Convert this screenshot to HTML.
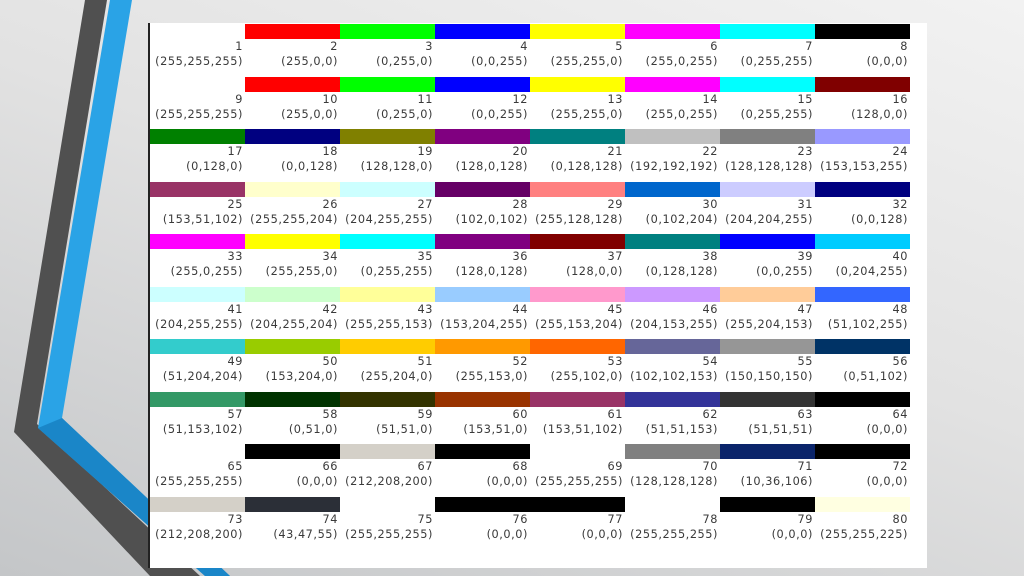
<!DOCTYPE html>
<html><head><meta charset="utf-8"><style>
body{margin:0;width:1024px;height:576px;overflow:hidden;position:relative;background:linear-gradient(200deg,#f2f2f2 0%,#e2e2e2 45%,#c4c6c8 100%);font-family:"DejaVu Sans","Liberation Sans",sans-serif;}
svg.deco{position:absolute;left:0;top:0}
.panel{position:absolute;left:148px;top:23px;width:779px;height:545px;background:#fff;border-left:2px solid #222;box-sizing:border-box}
.grid{position:absolute;left:150px;top:24px;width:760px}
.row{height:52.5px;display:flex}
.c{width:95px;height:52.5px;position:relative}
.c i{display:block;height:15px}
.c b{font-weight:normal;position:absolute;right:2px;font-size:11.3px;letter-spacing:0.55px;color:#3a3a3a;white-space:nowrap;line-height:12px}
.c b.n{top:17px}.c b.v{top:32px}
</style></head><body>
<svg class="deco" width="1024" height="576">
<polygon points="85,0 107,0 37,424 200,576 150,576 14,432" fill="#505050"/>
<polygon points="110,0 132,0 62,418 230,576 205,576 38,428" fill="#2aa3e6"/>
<polygon points="38,428 62,418 230,576 205,576" fill="#1a86c8"/>
</svg>
<div class="panel"></div>
<div class="grid" id="g">
<div class="row">
<div class="c"><i style="background:#fff"></i><b class="n">1</b><b class="v">(255,255,255)</b></div>
<div class="c"><i style="background:rgb(255,0,0)"></i><b class="n">2</b><b class="v">(255,0,0)</b></div>
<div class="c"><i style="background:rgb(0,255,0)"></i><b class="n">3</b><b class="v">(0,255,0)</b></div>
<div class="c"><i style="background:rgb(0,0,255)"></i><b class="n">4</b><b class="v">(0,0,255)</b></div>
<div class="c"><i style="background:rgb(255,255,0)"></i><b class="n">5</b><b class="v">(255,255,0)</b></div>
<div class="c"><i style="background:rgb(255,0,255)"></i><b class="n">6</b><b class="v">(255,0,255)</b></div>
<div class="c"><i style="background:rgb(0,255,255)"></i><b class="n">7</b><b class="v">(0,255,255)</b></div>
<div class="c"><i style="background:rgb(0,0,0)"></i><b class="n">8</b><b class="v">(0,0,0)</b></div>
</div>
<div class="row">
<div class="c"><i style="background:#fff"></i><b class="n">9</b><b class="v">(255,255,255)</b></div>
<div class="c"><i style="background:rgb(255,0,0)"></i><b class="n">10</b><b class="v">(255,0,0)</b></div>
<div class="c"><i style="background:rgb(0,255,0)"></i><b class="n">11</b><b class="v">(0,255,0)</b></div>
<div class="c"><i style="background:rgb(0,0,255)"></i><b class="n">12</b><b class="v">(0,0,255)</b></div>
<div class="c"><i style="background:rgb(255,255,0)"></i><b class="n">13</b><b class="v">(255,255,0)</b></div>
<div class="c"><i style="background:rgb(255,0,255)"></i><b class="n">14</b><b class="v">(255,0,255)</b></div>
<div class="c"><i style="background:rgb(0,255,255)"></i><b class="n">15</b><b class="v">(0,255,255)</b></div>
<div class="c"><i style="background:rgb(128,0,0)"></i><b class="n">16</b><b class="v">(128,0,0)</b></div>
</div>
<div class="row">
<div class="c"><i style="background:rgb(0,128,0)"></i><b class="n">17</b><b class="v">(0,128,0)</b></div>
<div class="c"><i style="background:rgb(0,0,128)"></i><b class="n">18</b><b class="v">(0,0,128)</b></div>
<div class="c"><i style="background:rgb(128,128,0)"></i><b class="n">19</b><b class="v">(128,128,0)</b></div>
<div class="c"><i style="background:rgb(128,0,128)"></i><b class="n">20</b><b class="v">(128,0,128)</b></div>
<div class="c"><i style="background:rgb(0,128,128)"></i><b class="n">21</b><b class="v">(0,128,128)</b></div>
<div class="c"><i style="background:rgb(192,192,192)"></i><b class="n">22</b><b class="v">(192,192,192)</b></div>
<div class="c"><i style="background:rgb(128,128,128)"></i><b class="n">23</b><b class="v">(128,128,128)</b></div>
<div class="c"><i style="background:rgb(153,153,255)"></i><b class="n">24</b><b class="v">(153,153,255)</b></div>
</div>
<div class="row">
<div class="c"><i style="background:rgb(153,51,102)"></i><b class="n">25</b><b class="v">(153,51,102)</b></div>
<div class="c"><i style="background:rgb(255,255,204)"></i><b class="n">26</b><b class="v">(255,255,204)</b></div>
<div class="c"><i style="background:rgb(204,255,255)"></i><b class="n">27</b><b class="v">(204,255,255)</b></div>
<div class="c"><i style="background:rgb(102,0,102)"></i><b class="n">28</b><b class="v">(102,0,102)</b></div>
<div class="c"><i style="background:rgb(255,128,128)"></i><b class="n">29</b><b class="v">(255,128,128)</b></div>
<div class="c"><i style="background:rgb(0,102,204)"></i><b class="n">30</b><b class="v">(0,102,204)</b></div>
<div class="c"><i style="background:rgb(204,204,255)"></i><b class="n">31</b><b class="v">(204,204,255)</b></div>
<div class="c"><i style="background:rgb(0,0,128)"></i><b class="n">32</b><b class="v">(0,0,128)</b></div>
</div>
<div class="row">
<div class="c"><i style="background:rgb(255,0,255)"></i><b class="n">33</b><b class="v">(255,0,255)</b></div>
<div class="c"><i style="background:rgb(255,255,0)"></i><b class="n">34</b><b class="v">(255,255,0)</b></div>
<div class="c"><i style="background:rgb(0,255,255)"></i><b class="n">35</b><b class="v">(0,255,255)</b></div>
<div class="c"><i style="background:rgb(128,0,128)"></i><b class="n">36</b><b class="v">(128,0,128)</b></div>
<div class="c"><i style="background:rgb(128,0,0)"></i><b class="n">37</b><b class="v">(128,0,0)</b></div>
<div class="c"><i style="background:rgb(0,128,128)"></i><b class="n">38</b><b class="v">(0,128,128)</b></div>
<div class="c"><i style="background:rgb(0,0,255)"></i><b class="n">39</b><b class="v">(0,0,255)</b></div>
<div class="c"><i style="background:rgb(0,204,255)"></i><b class="n">40</b><b class="v">(0,204,255)</b></div>
</div>
<div class="row">
<div class="c"><i style="background:rgb(204,255,255)"></i><b class="n">41</b><b class="v">(204,255,255)</b></div>
<div class="c"><i style="background:rgb(204,255,204)"></i><b class="n">42</b><b class="v">(204,255,204)</b></div>
<div class="c"><i style="background:rgb(255,255,153)"></i><b class="n">43</b><b class="v">(255,255,153)</b></div>
<div class="c"><i style="background:rgb(153,204,255)"></i><b class="n">44</b><b class="v">(153,204,255)</b></div>
<div class="c"><i style="background:rgb(255,153,204)"></i><b class="n">45</b><b class="v">(255,153,204)</b></div>
<div class="c"><i style="background:rgb(204,153,255)"></i><b class="n">46</b><b class="v">(204,153,255)</b></div>
<div class="c"><i style="background:rgb(255,204,153)"></i><b class="n">47</b><b class="v">(255,204,153)</b></div>
<div class="c"><i style="background:rgb(51,102,255)"></i><b class="n">48</b><b class="v">(51,102,255)</b></div>
</div>
<div class="row">
<div class="c"><i style="background:rgb(51,204,204)"></i><b class="n">49</b><b class="v">(51,204,204)</b></div>
<div class="c"><i style="background:rgb(153,204,0)"></i><b class="n">50</b><b class="v">(153,204,0)</b></div>
<div class="c"><i style="background:rgb(255,204,0)"></i><b class="n">51</b><b class="v">(255,204,0)</b></div>
<div class="c"><i style="background:rgb(255,153,0)"></i><b class="n">52</b><b class="v">(255,153,0)</b></div>
<div class="c"><i style="background:rgb(255,102,0)"></i><b class="n">53</b><b class="v">(255,102,0)</b></div>
<div class="c"><i style="background:rgb(102,102,153)"></i><b class="n">54</b><b class="v">(102,102,153)</b></div>
<div class="c"><i style="background:rgb(150,150,150)"></i><b class="n">55</b><b class="v">(150,150,150)</b></div>
<div class="c"><i style="background:rgb(0,51,102)"></i><b class="n">56</b><b class="v">(0,51,102)</b></div>
</div>
<div class="row">
<div class="c"><i style="background:rgb(51,153,102)"></i><b class="n">57</b><b class="v">(51,153,102)</b></div>
<div class="c"><i style="background:rgb(0,51,0)"></i><b class="n">58</b><b class="v">(0,51,0)</b></div>
<div class="c"><i style="background:rgb(51,51,0)"></i><b class="n">59</b><b class="v">(51,51,0)</b></div>
<div class="c"><i style="background:rgb(153,51,0)"></i><b class="n">60</b><b class="v">(153,51,0)</b></div>
<div class="c"><i style="background:rgb(153,51,102)"></i><b class="n">61</b><b class="v">(153,51,102)</b></div>
<div class="c"><i style="background:rgb(51,51,153)"></i><b class="n">62</b><b class="v">(51,51,153)</b></div>
<div class="c"><i style="background:rgb(51,51,51)"></i><b class="n">63</b><b class="v">(51,51,51)</b></div>
<div class="c"><i style="background:rgb(0,0,0)"></i><b class="n">64</b><b class="v">(0,0,0)</b></div>
</div>
<div class="row">
<div class="c"><i style="background:#fff"></i><b class="n">65</b><b class="v">(255,255,255)</b></div>
<div class="c"><i style="background:rgb(0,0,0)"></i><b class="n">66</b><b class="v">(0,0,0)</b></div>
<div class="c"><i style="background:rgb(212,208,200)"></i><b class="n">67</b><b class="v">(212,208,200)</b></div>
<div class="c"><i style="background:rgb(0,0,0)"></i><b class="n">68</b><b class="v">(0,0,0)</b></div>
<div class="c"><i style="background:#fff"></i><b class="n">69</b><b class="v">(255,255,255)</b></div>
<div class="c"><i style="background:rgb(128,128,128)"></i><b class="n">70</b><b class="v">(128,128,128)</b></div>
<div class="c"><i style="background:rgb(10,36,106)"></i><b class="n">71</b><b class="v">(10,36,106)</b></div>
<div class="c"><i style="background:rgb(0,0,0)"></i><b class="n">72</b><b class="v">(0,0,0)</b></div>
</div>
<div class="row">
<div class="c"><i style="background:rgb(212,208,200)"></i><b class="n">73</b><b class="v">(212,208,200)</b></div>
<div class="c"><i style="background:rgb(43,47,55)"></i><b class="n">74</b><b class="v">(43,47,55)</b></div>
<div class="c"><i style="background:#fff"></i><b class="n">75</b><b class="v">(255,255,255)</b></div>
<div class="c"><i style="background:rgb(0,0,0)"></i><b class="n">76</b><b class="v">(0,0,0)</b></div>
<div class="c"><i style="background:rgb(0,0,0)"></i><b class="n">77</b><b class="v">(0,0,0)</b></div>
<div class="c"><i style="background:#fff"></i><b class="n">78</b><b class="v">(255,255,255)</b></div>
<div class="c"><i style="background:rgb(0,0,0)"></i><b class="n">79</b><b class="v">(0,0,0)</b></div>
<div class="c"><i style="background:rgb(255,255,225)"></i><b class="n">80</b><b class="v">(255,255,225)</b></div>
</div>
</div>
</body></html>
